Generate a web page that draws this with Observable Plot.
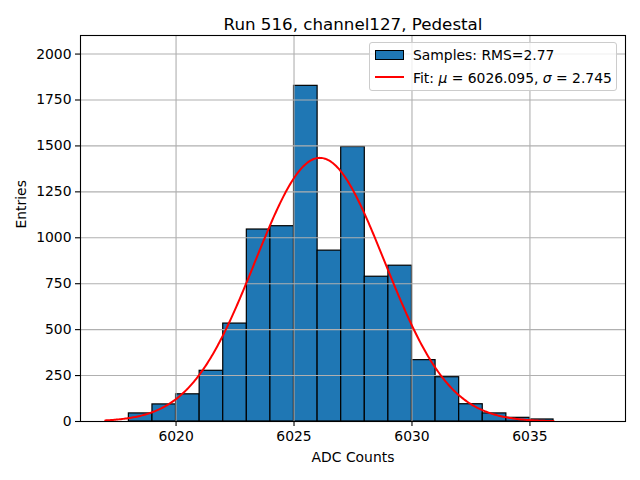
<!DOCTYPE html>
<html>
<head>
<meta charset="utf-8">
<script src="https://cdn.jsdelivr.net/npm/d3@7"></script>
<script src="https://cdn.jsdelivr.net/npm/@observablehq/plot@0.6"></script>
<style>
  body { margin: 0; background: #fff; font-family: "DejaVu Sans", sans-serif; }
  #wrap { position: relative; width: 640px; height: 480px; }
  #legend { position: absolute; left: 369px; top: 42px; width: 248px; height: 49px;
            border: 1px solid #cccccc; border-radius: 3px; background: rgba(255,255,255,0.8);
            font-size: 13.9px; color: #000; box-sizing: border-box; }
  #legend .patch { position: absolute; left: 5px; top: 6.5px; width: 29px; height: 10px;
                   background: #1f77b4; border: 1.2px solid #000; box-sizing: border-box; }
  #legend .line { position: absolute; left: 5px; top: 33px; width: 29px; height: 2px; background: red; }
  #legend .txt { position: absolute; left: 43px; line-height: 16px; white-space: nowrap; }
</style>
</head>
<body>
<div id="wrap"></div>
<script>
// ---- data ----
const title = "Run 516, channel127, Pedestal";
const xLabel = "ADC Counts";
const yLabel = "Entries";
const binStarts = [6017, 6018, 6019, 6020, 6021, 6022, 6023, 6024, 6025, 6026, 6027, 6028, 6029, 6030, 6031, 6032, 6033, 6034, 6035, 6036, 6037];
const counts    = [0,    44,   93,   148,  276,  533,  1045, 1063, 1827, 930,  1494, 788,  848,  334,  241,  94,   44,   20,   11,   0,    0];
const binWidth = 1;
const xTicks = [6020, 6025, 6030, 6035];
const yTicks = [0, 250, 500, 750, 1000, 1250, 1500, 1750, 2000];
const rms = 2.77;
const fitMu = 6026.095;
const fitSigma = 2.745;
const fitAmplitude = 1435;
const fitRange = [6017, 6036];

// ---- derived tables ----
const bars = binStarts.map((x0, i) => ({x0, x1: x0 + binWidth, count: counts[i]}));
const fitXs = d3.range(fitRange[0], fitRange[1] + 1e-9, (fitRange[1] - fitRange[0]) / 400);
const fit = fitXs.map(x => ({x, y: fitAmplitude * Math.exp(-((x - fitMu) ** 2) / (2 * fitSigma ** 2))}));

const xMin = binStarts[0], xMax = binStarts[binStarts.length - 1] + binWidth;
const xPad = 0.05 * (xMax - xMin);
const yTop = 1.15 * d3.max(counts);

const plot = Plot.plot({
  width: 640,
  height: 480,
  marginLeft: 80,
  marginRight: 15,
  marginTop: 35,
  marginBottom: 59,
  style: { fontFamily: "DejaVu Sans", fontSize: "13.9px", background: "white", color: "black" },
  x: { domain: [xMin - xPad, xMax + xPad] },
  y: { domain: [0, yTop] },
  marks: [
    Plot.rectY(bars, { x1: "x0", x2: "x1", y: "count", fill: "#1f77b4", stroke: "black", strokeWidth: 1.2, inset: 0 }),
    Plot.gridX(xTicks, { stroke: "#b0b0b0", strokeOpacity: 1, strokeWidth: 1.1 }),
    Plot.gridY(yTicks, { stroke: "#b0b0b0", strokeOpacity: 1, strokeWidth: 1.1 }),
    Plot.line(fit, { x: "x", y: "y", stroke: "red", strokeWidth: 2 }),
    Plot.frame({ stroke: "black", strokeWidth: 1.1 }),
    Plot.axisX({ ticks: xTicks, tickSize: 5, tickPadding: 5, tickFormat: d => String(d), label: null, fontSize: 13.9, strokeWidth: 1.1 }),
    Plot.axisY({ ticks: yTicks, tickSize: 5, tickPadding: 4, tickFormat: d => String(d), label: null, fontSize: 13.9, strokeWidth: 1.1 }),
    Plot.text([title], { text: d => d, frameAnchor: "top", lineAnchor: "bottom", dy: -6, fontSize: 16.7, fill: "black" }),
    Plot.text([xLabel], { text: d => d, frameAnchor: "bottom", lineAnchor: "top", dy: 31, fontSize: 13.9, fill: "black" }),
    Plot.text([yLabel], { text: d => d, frameAnchor: "left", rotate: -90, dx: -59, fontSize: 13.9, fill: "black" })
  ]
});

const wrap = document.getElementById("wrap");
wrap.appendChild(plot);

const legend = document.createElement("div");
legend.id = "legend";
legend.innerHTML =
  `<div class="patch"></div><div class="txt" style="top:3.5px">Samples: RMS=${rms.toFixed(2)}</div>` +
  `<div class="line"></div><div class="txt" style="top:27px">Fit: <i>μ</i> = ${fitMu.toFixed(3)}, <i>σ</i> = ${fitSigma.toFixed(3)}</div>`;
wrap.appendChild(legend);
</script>
</body>
</html>
